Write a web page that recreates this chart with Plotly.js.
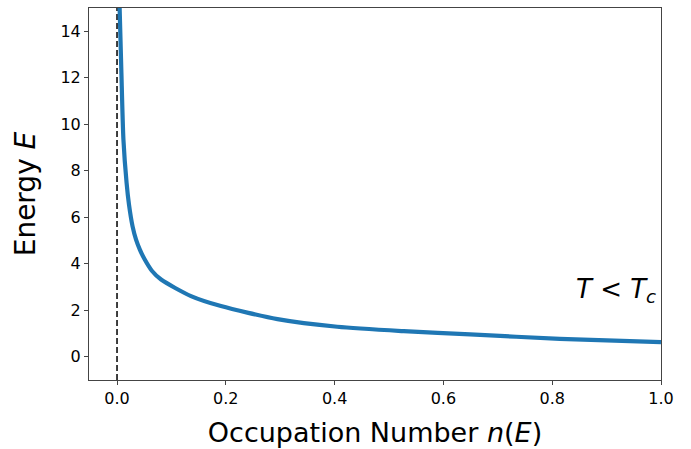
<!DOCTYPE html>
<html>
<head>
<meta charset="utf-8">
<script src="https://cdn.plot.ly/plotly-3.0.1.min.js"></script>
<style>html,body{margin:0;padding:0;background:#fff;}#chart{width:691px;height:449px;}</style>
</head>
<body>
<div id="chart"></div>
<script>
// Occupation number n(E) and energy E
var occupation = [0.0048, 0.0079, 0.0118, 0.0176, 0.022, 0.0286, 0.035, 0.042, 0.051, 0.064, 0.081, 0.136, 0.191, 0.295, 0.405, 0.527, 0.649, 0.814, 1.0];
var energy     = [15.0, 12.35, 9.34, 7.48, 6.55, 5.61, 5.04, 4.61, 4.18, 3.70, 3.32, 2.61, 2.18, 1.62, 1.29, 1.10, 0.96, 0.77, 0.63];
var zeroLineX = [0, 0];
var zeroLineY = [-1, 15];
var xTicks = [0.0, 0.2, 0.4, 0.6, 0.8, 1.0];
var yTicks = [0, 2, 4, 6, 8, 10, 12, 14];

var font = "DejaVu Sans, sans-serif";
var traces = [
  {x: zeroLineX, y: zeroLineY, mode: 'lines', line: {color: '#000', width: 1.5, dash: '6px,3px'}, hoverinfo: 'skip'},
  {x: occupation, y: energy, mode: 'lines', line: {color: '#1f77b4', width: 4.2, shape: 'spline', smoothing: 0.7}}
];
var layout = {
  width: 691, height: 449,
  margin: {l: 89, r: 30, t: 8, b: 69},
  showlegend: false,
  paper_bgcolor: '#fff', plot_bgcolor: '#fff',
  font: {family: font, color: '#000'},
  xaxis: {
    range: [-0.0515, 1.0], tickvals: xTicks, tickformat: '.1f',
    ticks: 'outside', ticklen: 4, tickcolor: '#444', tickwidth: 1,
    showline: true, linecolor: '#444', linewidth: 1, mirror: true,
    showgrid: false, zeroline: false,
    tickfont: {size: 16, family: font},
    title: {text: 'Occupation Number <i>n</i>(<i>E</i>)', font: {size: 27, family: font}, standoff: 15}
  },
  yaxis: {
    range: [-1, 15], tickvals: yTicks,
    ticks: 'outside', ticklen: 4, tickcolor: '#444', tickwidth: 1,
    showline: true, linecolor: '#444', linewidth: 1, mirror: true,
    showgrid: false, zeroline: false,
    tickfont: {size: 16, family: font},
    title: {text: 'Energy <i>E</i>', font: {size: 28, family: font}, standoff: 16}
  },
  annotations: [{
    x: 0.995, y: 2.85, xref: 'x', yref: 'y', xanchor: 'right', yanchor: 'middle',
    text: '<i>T</i> &lt; <i>T<sub>c</sub></i>', showarrow: false,
    font: {size: 26, family: font, color: '#000'}
  }]
};
Plotly.newPlot('chart', traces, layout, {displayModeBar: false, staticPlot: true});
</script>
</body>
</html>
